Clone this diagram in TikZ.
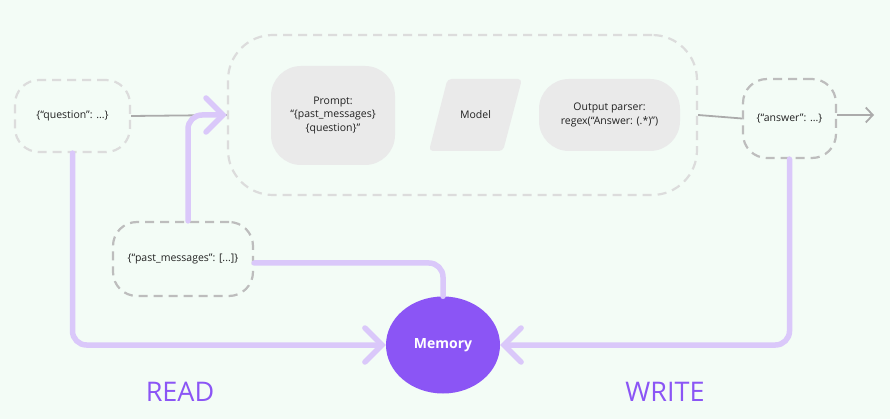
\documentclass[tikz,border=0pt]{standalone}
\usepackage{fontspec}
\setmainfont{Open Sans}
\usetikzlibrary{arrows.meta,shapes.geometric}
\definecolor{bgc}{HTML}{F3FCF6}
\definecolor{lav}{HTML}{DAC8FA}
\definecolor{mem}{HTML}{8B55F5}
\definecolor{dashlight}{HTML}{DCDCDC}
\definecolor{dashdark}{HTML}{BDBDBD}
\definecolor{boxfill}{HTML}{EAEAEA}
\definecolor{grayline}{HTML}{ABABAB}
\definecolor{txt}{HTML}{222222}
\tikzset{
  dbox/.style={draw=#1, dash pattern=on 9pt off 6pt, line width=2.2pt, rounded corners=24pt, align=center, font=\fontsize{10.5}{12}\selectfont, text=txt},
  gbox/.style={fill=boxfill, rounded corners=30pt, align=center, font=\fontsize{10.5}{13.5}\selectfont, text=txt},
  rw/.style={draw=lav, line width=5.5pt, rounded corners=14pt, line cap=round},
  rwarrow/.style={rw, -{Straight Barb[length=17pt,width=34pt,line cap=round]}},
  gl/.style={draw=grayline, line width=1.8pt},
}
\begin{document}
\begin{tikzpicture}[x=1pt,y=-1pt]
\fill[bgc] (0,0) rectangle (890,419);
\useasboundingbox (0,0) rectangle (890,419);
% container
\node[dbox=dashlight, rounded corners=45pt, minimum width=469pt, minimum height=160pt] (cont) at (462.5,115) {};
\node[dbox=dashlight, minimum width=115pt, minimum height=72pt] (q) at (72.5,116) {\{“question”: ...\}};
\node[dbox=dashdark, minimum width=93pt, minimum height=79pt] (ans) at (789.5,118.5) {\{“answer”: ...\}};
\node[dbox=dashdark, minimum width=140pt, minimum height=74pt] (past) at (183,259) {\{“past\_messages”: [...]\}};
\node[gbox, minimum width=124pt, minimum height=99pt] (prompt) at (333,115.5) {Prompt:\\“\{past\_messages\}\\\{question\}”};
\fill[boxfill, rounded corners=4pt] (447.5,79) -- (522,79) -- (503,151) -- (429,151) -- cycle;
\node[font=\fontsize{10.5}{12}\selectfont, text=txt] (model) at (475.5,115) {Model};
\node[gbox, minimum width=141pt, minimum height=72pt] (op) at (609.5,115) {Output parser:\\regex(“Answer: (.*)”)};
\node[ellipse, fill=mem, minimum width=114pt, minimum height=97pt, inner sep=0pt, text=white, font=\fontsize{14}{16}\selectfont\bfseries] (m) at (443,345) {Memory};
% gray lines
\draw[gl] (q.east) -- (cont.west);
\draw[gl] (cont.east) -- (ans.west);
\coordinate (out) at (874,115);
\draw[gl, -{Straight Barb[length=7pt,width=15pt]}] (ans.east |- out) -- (out);
% purple connections
\draw[rwarrow] (q.south) -- (q.south |- m.west) -- (m.west);
\draw[rwarrow] (past.north -| 188,0) -- (188,115) -- (cont.west);
\draw[rw] (past.east |- 0,263) -- (443,263) -- (m.north);
\draw[rwarrow] (ans.south) -- (ans.south |- m.east) -- (m.east);
% labels
\node[text=mem, font=\fontsize{27}{30}\selectfont] (read) at (180,392) {READ};
\node[text=mem, font=\fontsize{27}{30}\selectfont] (write) at (665,392) {WRITE};
\end{tikzpicture}
\end{document}
